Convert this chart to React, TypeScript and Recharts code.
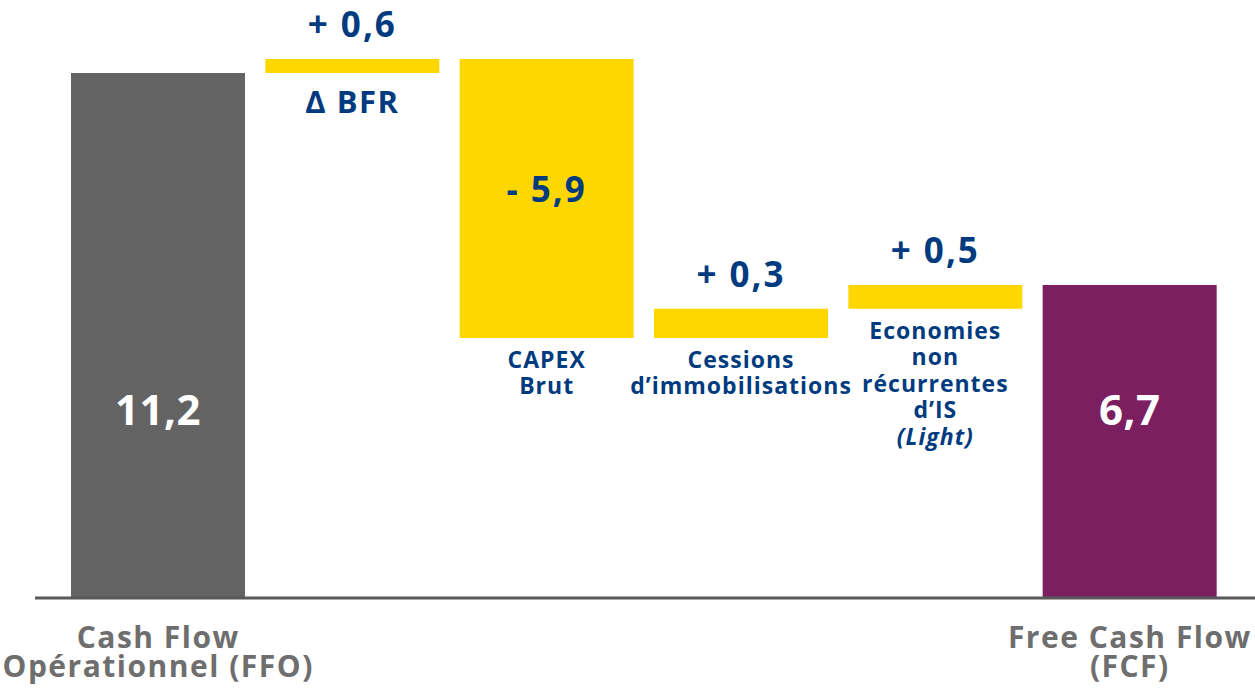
import React from 'react';
import { BarChart, Bar, XAxis, YAxis, Cell, LabelList } from 'recharts';

const categories = ['FFO', 'BFR', 'CAPEX', 'Cessions', 'Economies', 'FCF'];
const barFrom = [0, 11.2, 5.55, 5.55, 6.17, 0];
const barTo = [11.2, 11.5, 11.5, 6.17, 6.68, 6.68];
const valueLabels = ['11,2', '+ 0,6', '- 5,9', '+ 0,3', '+ 0,5', '6,7'];
const barLabels = [
  [],
  ['Δ BFR'],
  ['CAPEX', 'Brut'],
  ['Cessions', 'd’immobilisations'],
  ['Economies', 'non', 'récurrentes', 'd’IS', '(Light)'],
  [],
];
const axisLabels = [
  ['Cash Flow', 'Opérationnel (FFO)'],
  [],
  [],
  [],
  [],
  ['Free Cash Flow', '(FCF)'],
];
const barColors = ['#636363', '#FFD700', '#FFD700', '#FFD700', '#FFD700', '#7B1F61'];

const data = categories.map((name, i) => ({
  name,
  range: [barFrom[i], barTo[i]],
}));

const BLUE = '#003B80';
const FONT = '"Open Sans", "DejaVu Sans", sans-serif';

const renderLabels = (props: any) => {
  const { x, y, width, height, index } = props;
  const top = Math.min(y, y + height);
  const bottom = Math.max(y, y + height);
  const cx = x + width / 2;
  const value = valueLabels[index];
  let valueY = top - 22;
  let valueFill = BLUE;
  let valueSize = 35;
  let spacing = 2;
  if (index === 0 || index === 5) {
    valueY = bottom - 173;
    valueFill = '#fff';
    valueSize = 42;
    spacing = 0.5;
  } else if (index === 2) {
    valueY = top + 143;
  }
  const lines = barLabels[index];
  const big = index === 1;
  return (
    <g>
      <text
        x={cx}
        y={valueY}
        textAnchor="middle"
        fill={valueFill}
        fontSize={valueSize}
        fontWeight={700}
        fontFamily={FONT}
        letterSpacing={spacing}
      >
        {value}
      </text>
      {lines.length > 0 && (
        <text
          x={cx}
          y={bottom + (big ? 40 : 30)}
          textAnchor="middle"
          fill={BLUE}
          fontSize={big ? 31 : 23}
          fontWeight={700}
          fontFamily={FONT}
          letterSpacing={big ? 1.5 : 1}
        >
          {lines.map((line, k) => (
            <tspan
              key={k}
              x={cx}
              dy={k === 0 ? 0 : 26.5}
              fontStyle={line === '(Light)' ? 'italic' : 'normal'}
            >
              {line}
            </tspan>
          ))}
        </text>
      )}
    </g>
  );
};

const renderTick = (props: any) => {
  const { x, y, index } = props;
  const lines = axisLabels[index] || [];
  if (!lines.length) return <g />;
  return (
    <text
      x={x}
      y={y + 50}
      textAnchor="middle"
      fill="#6E6E6E"
      fontSize={30}
      fontWeight={700}
      fontFamily={FONT}
      letterSpacing={1.5}
    >
      {lines.map((line, k) => (
        <tspan key={k} x={x} dy={k === 0 ? 0 : 29}>
          {line}
        </tspan>
      ))}
    </text>
  );
};

export default function App() {
  return (
    <div style={{ position: 'absolute', left: 0, top: 0, width: 1255, height: 694, background: '#fff' }}>
      <BarChart
        width={1255}
        height={694}
        data={data}
        margin={{ top: 0, right: 0, bottom: 0, left: 35 }}
        barSize={174}
      >
        <XAxis
          dataKey="name"
          height={96}
          tickLine={false}
          tickSize={0}
          tickMargin={0}
          axisLine={{ stroke: '#595959', strokeWidth: 3 }}
          padding={{ left: 26, right: 28 }}
          tick={renderTick}
          interval={0}
        />
        <YAxis hide domain={[0, 12.76]} />
        <Bar dataKey="range" isAnimationActive={false}>
          {data.map((d, i) => (
            <Cell key={d.name} fill={barColors[i]} />
          ))}
          <LabelList content={renderLabels} />
        </Bar>
      </BarChart>
    </div>
  );
}
